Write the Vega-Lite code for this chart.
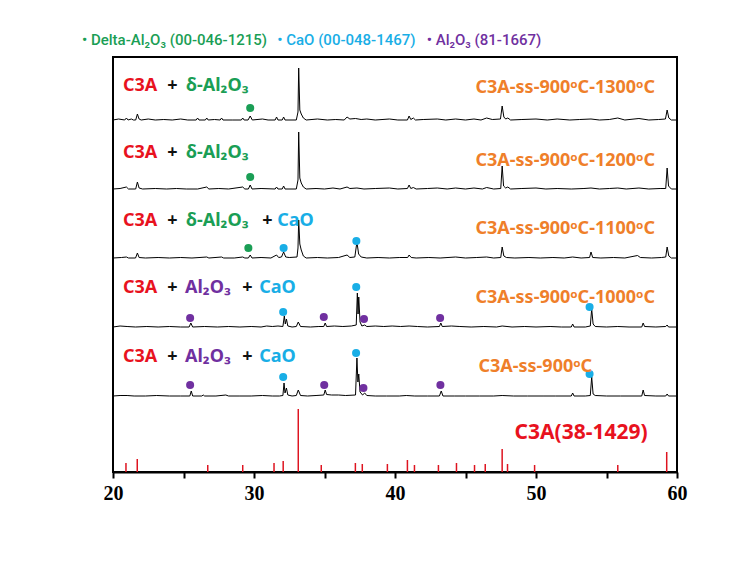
{
"$schema":"https://vega.github.io/schema/vega-lite/v6.json",
"width":564,"height":415,
"autosize":{"type":"none"},
"padding":{"left":113,"top":57,"right":78,"bottom":103},
"background":"white",
"config":{"view":{"stroke":"black","strokeWidth":2}},
"datasets":{
"xrd":[
{"s":"1300","x":20.0,"y":352},{"s":"1300","x":20.4,"y":353},{"s":"1300","x":20.83,"y":352},{"s":"1300","x":20.95,"y":354},{"s":"1300","x":21.07,"y":352},{"s":"1300","x":21.3,"y":353},{"s":"1300","x":21.45,"y":352},{"s":"1300","x":21.61,"y":352},{"s":"1300","x":21.73,"y":358},{"s":"1300","x":21.85,"y":353},{"s":"1300","x":22.0,"y":352},{"s":"1300","x":22.5,"y":353},{"s":"1300","x":23.0,"y":352},{"s":"1300","x":23.6,"y":352.5},{"s":"1300","x":24.2,"y":352},{"s":"1300","x":24.8,"y":353},{"s":"1300","x":25.3,"y":352},{"s":"1300","x":25.9,"y":352},{"s":"1300","x":26.0,"y":354},{"s":"1300","x":26.1,"y":352},{"s":"1300","x":26.55,"y":352},{"s":"1300","x":26.65,"y":354},{"s":"1300","x":26.75,"y":352},{"s":"1300","x":27.2,"y":352.5},{"s":"1300","x":27.6,"y":352},{"s":"1300","x":27.7,"y":354},{"s":"1300","x":27.8,"y":352},{"s":"1300","x":28.5,"y":352},{"s":"1300","x":29.1,"y":352},{"s":"1300","x":29.2,"y":354},{"s":"1300","x":29.3,"y":352},{"s":"1300","x":29.58,"y":352},{"s":"1300","x":29.73,"y":356},{"s":"1300","x":29.88,"y":352},{"s":"1300","x":30.6,"y":353},{"s":"1300","x":31.0,"y":352},{"s":"1300","x":31.5,"y":352},{"s":"1300","x":31.6,"y":355},{"s":"1300","x":31.7,"y":352},{"s":"1300","x":32.0,"y":352},{"s":"1300","x":32.1,"y":355},{"s":"1300","x":32.2,"y":352},{"s":"1300","x":33.0,"y":352},{"s":"1300","x":33.12,"y":360},{"s":"1300","x":33.17,"y":404},{"s":"1300","x":33.25,"y":362},{"s":"1300","x":33.35,"y":358},{"s":"1300","x":33.5,"y":354},{"s":"1300","x":33.7,"y":352},{"s":"1300","x":34.5,"y":353},{"s":"1300","x":35.2,"y":352},{"s":"1300","x":35.8,"y":352.5},{"s":"1300","x":36.4,"y":352},{"s":"1300","x":36.6,"y":355},{"s":"1300","x":36.8,"y":353},{"s":"1300","x":37.2,"y":353.5},{"s":"1300","x":37.6,"y":352.5},{"s":"1300","x":38.0,"y":353},{"s":"1300","x":38.6,"y":352},{"s":"1300","x":39.6,"y":353},{"s":"1300","x":40.2,"y":352},{"s":"1300","x":40.88,"y":352},{"s":"1300","x":41.0,"y":356},{"s":"1300","x":41.12,"y":352.5},{"s":"1300","x":41.3,"y":354},{"s":"1300","x":41.45,"y":352},{"s":"1300","x":42.0,"y":352.5},{"s":"1300","x":43.0,"y":353},{"s":"1300","x":43.6,"y":352},{"s":"1300","x":44.3,"y":353},{"s":"1300","x":45.0,"y":352},{"s":"1300","x":45.6,"y":353},{"s":"1300","x":46.1,"y":352},{"s":"1300","x":46.5,"y":354},{"s":"1300","x":46.9,"y":352.5},{"s":"1300","x":47.48,"y":353},{"s":"1300","x":47.6,"y":366},{"s":"1300","x":47.72,"y":355},{"s":"1300","x":47.85,"y":353},{"s":"1300","x":48.0,"y":354},{"s":"1300","x":48.2,"y":352},{"s":"1300","x":49.0,"y":352.5},{"s":"1300","x":50.0,"y":353},{"s":"1300","x":50.8,"y":352},{"s":"1300","x":51.5,"y":353},{"s":"1300","x":52.4,"y":352},{"s":"1300","x":53.1,"y":352.5},{"s":"1300","x":53.9,"y":353},{"s":"1300","x":54.5,"y":352},{"s":"1300","x":55.2,"y":352.5},{"s":"1300","x":55.8,"y":354},{"s":"1300","x":56.3,"y":352},{"s":"1300","x":57.3,"y":353.5},{"s":"1300","x":58.0,"y":352},{"s":"1300","x":58.7,"y":352.5},{"s":"1300","x":59.18,"y":353},{"s":"1300","x":59.3,"y":362},{"s":"1300","x":59.42,"y":354},{"s":"1300","x":59.6,"y":352},{"s":"1300","x":60.0,"y":352},
{"s":"1200","x":20.0,"y":283},{"s":"1200","x":20.5,"y":283.5},{"s":"1200","x":20.95,"y":285},{"s":"1200","x":21.1,"y":283},{"s":"1200","x":21.61,"y":283},{"s":"1200","x":21.73,"y":290},{"s":"1200","x":21.85,"y":284},{"s":"1200","x":22.1,"y":283},{"s":"1200","x":23.0,"y":283.5},{"s":"1200","x":23.8,"y":283},{"s":"1200","x":24.5,"y":283.5},{"s":"1200","x":25.2,"y":283},{"s":"1200","x":26.0,"y":283},{"s":"1200","x":26.65,"y":285},{"s":"1200","x":26.8,"y":283},{"s":"1200","x":27.5,"y":283.5},{"s":"1200","x":28.2,"y":283},{"s":"1200","x":29.2,"y":285},{"s":"1200","x":29.35,"y":283},{"s":"1200","x":29.6,"y":283},{"s":"1200","x":29.73,"y":287},{"s":"1200","x":29.86,"y":283},{"s":"1200","x":30.5,"y":283.5},{"s":"1200","x":31.5,"y":283},{"s":"1200","x":31.6,"y":285},{"s":"1200","x":31.7,"y":283},{"s":"1200","x":32.0,"y":283},{"s":"1200","x":32.1,"y":286},{"s":"1200","x":32.2,"y":283},{"s":"1200","x":33.0,"y":283},{"s":"1200","x":33.12,"y":292},{"s":"1200","x":33.17,"y":340},{"s":"1200","x":33.25,"y":294},{"s":"1200","x":33.35,"y":289},{"s":"1200","x":33.5,"y":285},{"s":"1200","x":33.7,"y":283},{"s":"1200","x":34.4,"y":283.5},{"s":"1200","x":35.0,"y":283},{"s":"1200","x":35.6,"y":284},{"s":"1200","x":36.1,"y":283},{"s":"1200","x":36.6,"y":285},{"s":"1200","x":36.8,"y":283.5},{"s":"1200","x":37.3,"y":284},{"s":"1200","x":37.8,"y":283},{"s":"1200","x":38.6,"y":283.5},{"s":"1200","x":39.6,"y":284},{"s":"1200","x":40.2,"y":283},{"s":"1200","x":40.88,"y":283.5},{"s":"1200","x":41.0,"y":287},{"s":"1200","x":41.12,"y":283.5},{"s":"1200","x":41.3,"y":284.5},{"s":"1200","x":41.5,"y":283},{"s":"1200","x":42.3,"y":283.5},{"s":"1200","x":43.0,"y":284},{"s":"1200","x":43.7,"y":283},{"s":"1200","x":44.3,"y":284},{"s":"1200","x":45.0,"y":283},{"s":"1200","x":45.6,"y":284},{"s":"1200","x":46.2,"y":283},{"s":"1200","x":46.5,"y":284.5},{"s":"1200","x":47.0,"y":283},{"s":"1200","x":47.5,"y":283.5},{"s":"1200","x":47.6,"y":306},{"s":"1200","x":47.7,"y":286},{"s":"1200","x":47.85,"y":284},{"s":"1200","x":48.0,"y":285},{"s":"1200","x":48.2,"y":283},{"s":"1200","x":49.0,"y":283.5},{"s":"1200","x":50.0,"y":284},{"s":"1200","x":50.7,"y":283},{"s":"1200","x":51.5,"y":283.5},{"s":"1200","x":52.5,"y":283},{"s":"1200","x":53.4,"y":283.5},{"s":"1200","x":53.9,"y":284},{"s":"1200","x":54.5,"y":283},{"s":"1200","x":55.2,"y":283.5},{"s":"1200","x":55.8,"y":284},{"s":"1200","x":56.4,"y":283},{"s":"1200","x":57.3,"y":284},{"s":"1200","x":58.0,"y":283},{"s":"1200","x":58.8,"y":283.5},{"s":"1200","x":59.2,"y":283.5},{"s":"1200","x":59.3,"y":304},{"s":"1200","x":59.4,"y":286},{"s":"1200","x":59.6,"y":283},{"s":"1200","x":60.0,"y":283},
{"s":"1100","x":20.0,"y":214},{"s":"1100","x":20.6,"y":214.5},{"s":"1100","x":20.95,"y":215},{"s":"1100","x":21.1,"y":214},{"s":"1100","x":21.6,"y":214},{"s":"1100","x":21.73,"y":219},{"s":"1100","x":21.85,"y":214.5},{"s":"1100","x":22.3,"y":214},{"s":"1100","x":23.2,"y":214.5},{"s":"1100","x":24.0,"y":214},{"s":"1100","x":24.8,"y":214.5},{"s":"1100","x":25.6,"y":214},{"s":"1100","x":26.65,"y":215},{"s":"1100","x":26.8,"y":214},{"s":"1100","x":27.7,"y":215},{"s":"1100","x":27.85,"y":214},{"s":"1100","x":28.6,"y":214},{"s":"1100","x":29.2,"y":215},{"s":"1100","x":29.35,"y":214},{"s":"1100","x":29.6,"y":214},{"s":"1100","x":29.73,"y":217},{"s":"1100","x":29.86,"y":214},{"s":"1100","x":30.5,"y":214.5},{"s":"1100","x":31.2,"y":214},{"s":"1100","x":31.6,"y":217},{"s":"1100","x":31.75,"y":214.5},{"s":"1100","x":31.95,"y":215},{"s":"1100","x":32.1,"y":220},{"s":"1100","x":32.25,"y":215},{"s":"1100","x":32.5,"y":214.5},{"s":"1100","x":33.05,"y":215},{"s":"1100","x":33.12,"y":224},{"s":"1100","x":33.17,"y":252},{"s":"1100","x":33.25,"y":228},{"s":"1100","x":33.35,"y":222},{"s":"1100","x":33.5,"y":216},{"s":"1100","x":33.7,"y":214},{"s":"1100","x":34.5,"y":214.5},{"s":"1100","x":35.2,"y":214},{"s":"1100","x":36.0,"y":214.5},{"s":"1100","x":36.6,"y":217},{"s":"1100","x":36.8,"y":214.5},{"s":"1100","x":37.15,"y":215},{"s":"1100","x":37.3,"y":230},{"s":"1100","x":37.42,"y":218},{"s":"1100","x":37.6,"y":215},{"s":"1100","x":38.0,"y":214},{"s":"1100","x":38.8,"y":214.5},{"s":"1100","x":39.6,"y":214},{"s":"1100","x":40.3,"y":214.5},{"s":"1100","x":40.9,"y":214.5},{"s":"1100","x":41.0,"y":217},{"s":"1100","x":41.15,"y":214.5},{"s":"1100","x":41.5,"y":214},{"s":"1100","x":42.4,"y":214.5},{"s":"1100","x":43.2,"y":214},{"s":"1100","x":44.3,"y":215},{"s":"1100","x":45.0,"y":214},{"s":"1100","x":45.8,"y":214.5},{"s":"1100","x":46.5,"y":215},{"s":"1100","x":47.0,"y":214},{"s":"1100","x":47.5,"y":214.5},{"s":"1100","x":47.6,"y":225},{"s":"1100","x":47.72,"y":216},{"s":"1100","x":47.9,"y":214.5},{"s":"1100","x":48.5,"y":214},{"s":"1100","x":49.5,"y":214.5},{"s":"1100","x":50.3,"y":214},{"s":"1100","x":51.2,"y":214.5},{"s":"1100","x":52.0,"y":214},{"s":"1100","x":52.6,"y":215},{"s":"1100","x":53.2,"y":214},{"s":"1100","x":53.8,"y":214.5},{"s":"1100","x":53.9,"y":220},{"s":"1100","x":54.02,"y":214.5},{"s":"1100","x":54.6,"y":214},{"s":"1100","x":55.5,"y":214.5},{"s":"1100","x":56.3,"y":214},{"s":"1100","x":57.2,"y":216.5},{"s":"1100","x":57.4,"y":214.5},{"s":"1100","x":58.2,"y":214},{"s":"1100","x":58.9,"y":214.5},{"s":"1100","x":59.2,"y":215},{"s":"1100","x":59.3,"y":225},{"s":"1100","x":59.42,"y":216},{"s":"1100","x":59.6,"y":214},{"s":"1100","x":60.0,"y":214},
{"s":"1000","x":20.0,"y":145},{"s":"1000","x":20.5,"y":146},{"s":"1000","x":21.0,"y":145.5},{"s":"1000","x":21.6,"y":145},{"s":"1000","x":22.4,"y":145.5},{"s":"1000","x":23.2,"y":145},{"s":"1000","x":24.0,"y":145.5},{"s":"1000","x":24.8,"y":145},{"s":"1000","x":25.4,"y":145},{"s":"1000","x":25.52,"y":149},{"s":"1000","x":25.65,"y":145},{"s":"1000","x":26.5,"y":145.5},{"s":"1000","x":27.4,"y":145},{"s":"1000","x":28.2,"y":145.5},{"s":"1000","x":29.0,"y":145},{"s":"1000","x":29.8,"y":145.5},{"s":"1000","x":30.5,"y":145},{"s":"1000","x":30.9,"y":146},{"s":"1000","x":31.3,"y":145.5},{"s":"1000","x":31.7,"y":146},{"s":"1000","x":32.05,"y":145.5},{"s":"1000","x":32.15,"y":156},{"s":"1000","x":32.22,"y":148},{"s":"1000","x":32.3,"y":153},{"s":"1000","x":32.4,"y":146},{"s":"1000","x":32.7,"y":145},{"s":"1000","x":33.0,"y":145.5},{"s":"1000","x":33.14,"y":150},{"s":"1000","x":33.3,"y":145.5},{"s":"1000","x":34.0,"y":145},{"s":"1000","x":34.6,"y":145.5},{"s":"1000","x":34.95,"y":145.5},{"s":"1000","x":35.05,"y":149},{"s":"1000","x":35.15,"y":145.5},{"s":"1000","x":35.7,"y":146},{"s":"1000","x":36.3,"y":145.5},{"s":"1000","x":36.9,"y":146},{"s":"1000","x":37.25,"y":147},{"s":"1000","x":37.33,"y":179},{"s":"1000","x":37.38,"y":158},{"s":"1000","x":37.43,"y":175},{"s":"1000","x":37.52,"y":150},{"s":"1000","x":37.65,"y":146},{"s":"1000","x":37.85,"y":147},{"s":"1000","x":38.0,"y":145.5},{"s":"1000","x":38.6,"y":146},{"s":"1000","x":39.2,"y":145.5},{"s":"1000","x":39.8,"y":146},{"s":"1000","x":40.4,"y":145.5},{"s":"1000","x":41.0,"y":146},{"s":"1000","x":41.6,"y":145.5},{"s":"1000","x":42.3,"y":145},{"s":"1000","x":43.15,"y":145.5},{"s":"1000","x":43.25,"y":149},{"s":"1000","x":43.35,"y":145.5},{"s":"1000","x":44.0,"y":146},{"s":"1000","x":44.6,"y":145.5},{"s":"1000","x":45.4,"y":145},{"s":"1000","x":46.3,"y":145.5},{"s":"1000","x":47.2,"y":145},{"s":"1000","x":47.6,"y":146},{"s":"1000","x":48.3,"y":145},{"s":"1000","x":49.2,"y":145.5},{"s":"1000","x":50.0,"y":145},{"s":"1000","x":51.0,"y":145.5},{"s":"1000","x":51.8,"y":145},{"s":"1000","x":52.5,"y":145},{"s":"1000","x":52.6,"y":148},{"s":"1000","x":52.7,"y":145},{"s":"1000","x":53.5,"y":145},{"s":"1000","x":53.85,"y":146},{"s":"1000","x":53.95,"y":163},{"s":"1000","x":54.05,"y":148},{"s":"1000","x":54.2,"y":145.5},{"s":"1000","x":55.0,"y":145},{"s":"1000","x":55.8,"y":145.5},{"s":"1000","x":56.6,"y":145},{"s":"1000","x":57.5,"y":145},{"s":"1000","x":57.6,"y":149},{"s":"1000","x":57.7,"y":145.5},{"s":"1000","x":58.5,"y":145},{"s":"1000","x":59.2,"y":145.5},{"s":"1000","x":59.3,"y":147},{"s":"1000","x":59.4,"y":145},{"s":"1000","x":60.0,"y":145},
{"s":"900","x":20.0,"y":76},{"s":"900","x":20.5,"y":76.5},{"s":"900","x":21.0,"y":76.5},{"s":"900","x":21.5,"y":76},{"s":"900","x":22.3,"y":76},{"s":"900","x":23.1,"y":76.5},{"s":"900","x":24.0,"y":76},{"s":"900","x":24.8,"y":76},{"s":"900","x":25.45,"y":76},{"s":"900","x":25.55,"y":81},{"s":"900","x":25.65,"y":76},{"s":"900","x":26.3,"y":76},{"s":"900","x":26.4,"y":77},{"s":"900","x":26.5,"y":76},{"s":"900","x":27.3,"y":76},{"s":"900","x":28.0,"y":77},{"s":"900","x":28.2,"y":76},{"s":"900","x":29.0,"y":76},{"s":"900","x":29.8,"y":76},{"s":"900","x":30.6,"y":76.5},{"s":"900","x":31.3,"y":76},{"s":"900","x":31.8,"y":76},{"s":"900","x":32.05,"y":76.5},{"s":"900","x":32.13,"y":89},{"s":"900","x":32.2,"y":79},{"s":"900","x":32.3,"y":84},{"s":"900","x":32.4,"y":77},{"s":"900","x":32.7,"y":76},{"s":"900","x":33.0,"y":76.5},{"s":"900","x":33.14,"y":82},{"s":"900","x":33.3,"y":76.5},{"s":"900","x":33.8,"y":76},{"s":"900","x":34.4,"y":76.5},{"s":"900","x":34.95,"y":77},{"s":"900","x":35.05,"y":82},{"s":"900","x":35.15,"y":77.5},{"s":"900","x":35.5,"y":77},{"s":"900","x":36.0,"y":77},{"s":"900","x":36.5,"y":76.5},{"s":"900","x":37.2,"y":77},{"s":"900","x":37.3,"y":114},{"s":"900","x":37.37,"y":90},{"s":"900","x":37.43,"y":98},{"s":"900","x":37.52,"y":80},{"s":"900","x":37.7,"y":77},{"s":"900","x":37.85,"y":79},{"s":"900","x":38.0,"y":76.5},{"s":"900","x":38.6,"y":76},{"s":"900","x":39.4,"y":76},{"s":"900","x":40.3,"y":76},{"s":"900","x":40.8,"y":76.5},{"s":"900","x":41.4,"y":76},{"s":"900","x":42.3,"y":76},{"s":"900","x":43.15,"y":76},{"s":"900","x":43.28,"y":81},{"s":"900","x":43.4,"y":76},{"s":"900","x":44.2,"y":76},{"s":"900","x":45.0,"y":76},{"s":"900","x":46.0,"y":76},{"s":"900","x":47.0,"y":76},{"s":"900","x":47.6,"y":76.5},{"s":"900","x":48.4,"y":76},{"s":"900","x":49.4,"y":76},{"s":"900","x":50.5,"y":76},{"s":"900","x":51.4,"y":76},{"s":"900","x":52.5,"y":76},{"s":"900","x":52.6,"y":79},{"s":"900","x":52.7,"y":76},{"s":"900","x":53.5,"y":76},{"s":"900","x":53.85,"y":76.5},{"s":"900","x":53.95,"y":95},{"s":"900","x":54.05,"y":78},{"s":"900","x":54.2,"y":76.5},{"s":"900","x":55.0,"y":76},{"s":"900","x":56.0,"y":76},{"s":"900","x":57.5,"y":76},{"s":"900","x":57.6,"y":82},{"s":"900","x":57.7,"y":76.5},{"s":"900","x":58.5,"y":76},{"s":"900","x":59.2,"y":76},{"s":"900","x":59.3,"y":78},{"s":"900","x":59.4,"y":76},{"s":"900","x":60.0,"y":76}
],
"ref":[
{"x":20.92,"h":9},{"x":21.72,"h":13},{"x":26.72,"h":7},{"x":29.2,"h":7},{"x":31.42,"h":9},{"x":32.07,"h":11},{"x":33.14,"h":63},{"x":34.77,"h":7},{"x":37.19,"h":9},{"x":37.68,"h":8},{"x":39.46,"h":8},{"x":40.88,"h":12},{"x":41.38,"h":7},{"x":43.08,"h":7},{"x":44.36,"h":9},{"x":45.64,"h":7},{"x":46.4,"h":8},{"x":47.6,"h":23},{"x":47.98,"h":8},{"x":49.9,"h":7},{"x":55.8,"h":7},{"x":59.27,"h":20}
],
"dots":[
{"k":"delta","x":29.73,"y":364},{"k":"delta","x":29.73,"y":295},{"k":"delta","x":29.6,"y":224},{"k":"CaO","x":32.1,"y":224},{"k":"CaO","x":37.26,"y":231},
{"k":"Al2O3","x":25.47,"y":154},{"k":"CaO","x":32.07,"y":160},{"k":"Al2O3","x":34.95,"y":155},{"k":"CaO","x":37.25,"y":185},{"k":"Al2O3","x":37.8,"y":153},{"k":"Al2O3","x":43.2,"y":154},{"k":"CaO","x":53.8,"y":165},
{"k":"Al2O3","x":25.47,"y":87},{"k":"CaO","x":32.07,"y":95},{"k":"Al2O3","x":34.98,"y":87},{"k":"CaO","x":37.24,"y":119},{"k":"Al2O3","x":37.76,"y":84},{"k":"Al2O3","x":43.22,"y":87},{"k":"CaO","x":53.8,"y":98}
],
"phaseText":[
{"k":"C3A","t":"C3A","x":20.71,"y":386},{"k":"plus","t":"+","x":23.84,"y":386},{"k":"delta","t":"δ-Al₂O₃","x":25.18,"y":386},
{"k":"C3A","t":"C3A","x":20.71,"y":319},{"k":"plus","t":"+","x":23.84,"y":319},{"k":"delta","t":"δ-Al₂O₃","x":25.18,"y":319},
{"k":"C3A","t":"C3A","x":20.71,"y":251},{"k":"plus","t":"+","x":23.84,"y":251},{"k":"delta","t":"δ-Al₂O₃","x":25.18,"y":251},{"k":"plus","t":"+","x":30.58,"y":251},{"k":"CaO","t":"CaO","x":31.65,"y":251},
{"k":"C3A","t":"C3A","x":20.71,"y":184},{"k":"plus","t":"+","x":23.84,"y":184},{"k":"Al2O3","t":"Al₂O₃","x":25.11,"y":184},{"k":"plus","t":"+","x":29.16,"y":184},{"k":"CaO","t":"CaO","x":30.37,"y":184},
{"k":"C3A","t":"C3A","x":20.71,"y":115},{"k":"plus","t":"+","x":23.84,"y":115},{"k":"Al2O3","t":"Al₂O₃","x":25.11,"y":115},{"k":"plus","t":"+","x":29.16,"y":115},{"k":"CaO","t":"CaO","x":30.37,"y":115}
],
"sampleText":[
{"k":"sample","t":"C3A-ss-900ᵒC-1300ᵒC","x":45.71,"y":384},
{"k":"sample","t":"C3A-ss-900ᵒC-1200ᵒC","x":45.71,"y":311},
{"k":"sample","t":"C3A-ss-900ᵒC-1100ᵒC","x":45.71,"y":243},
{"k":"sample","t":"C3A-ss-900ᵒC-1000ᵒC","x":45.71,"y":174},
{"k":"sample","t":"C3A-ss-900ᵒC","x":45.92,"y":105}
],
"legendText":[
{"k":"delta","t":"• Delta-Al₂O₃ (00-046-1215)","x":17.8,"y":432},
{"k":"CaO","t":"• CaO (00-048-1467)","x":31.65,"y":432},
{"k":"Al2O3","t":"• Al₂O₃ (81-1667)","x":42.25,"y":432}
],
"refText":[
{"k":"C3A","t":"C3A(38-1429)","x":48.48,"y":39}
]
},
"layer":[
{"data":{"name":"xrd"},"mark":{"type":"line","color":"black","strokeWidth":1},
 "encoding":{
  "x":{"field":"x","type":"quantitative","scale":{"domain":[20,60],"nice":false,"zero":false},
   "axis":{"values":[20,25,30,35,40,45,50,55,60],"labelExpr":"datum.value % 10 === 0 ? datum.label : ''","title":null,"grid":false,"domainColor":"black","domainWidth":2,"tickColor":"black","tickWidth":2,"tickSize":6,"labelFont":"Liberation Serif","labelFontWeight":"bold","labelFontSize":20,"labelColor":"black","labelPadding":5,"labelFlush":false}},
  "y":{"field":"y","type":"quantitative","scale":{"domain":[0,415],"nice":false,"zero":false},"axis":null},
  "detail":{"field":"s","type":"nominal"}}},
{"data":{"name":"ref"},"mark":{"type":"rule","color":"#de1420","strokeWidth":1.5},
 "encoding":{"x":{"field":"x","type":"quantitative"},"y":{"field":"h","type":"quantitative"},"y2":{"datum":0}}},
{"data":{"name":"dots"},"mark":{"type":"point","filled":true,"size":65,"opacity":1},
 "encoding":{"x":{"field":"x","type":"quantitative"},"y":{"field":"y","type":"quantitative"},
  "color":{"field":"k","type":"nominal","legend":null,"scale":{"domain":["delta","CaO","Al2O3","C3A","plus","sample"],"range":["#1a9e55","#19aee6","#7030a0","#e8121e","#111111","#ef7f2a"]}}}},
{"data":{"name":"phaseText"},"mark":{"type":"text","align":"left","baseline":"middle","font":"Noto Sans","fontWeight":"bold","fontSize":18},
 "encoding":{"x":{"field":"x","type":"quantitative"},"y":{"field":"y","type":"quantitative"},"text":{"field":"t","type":"nominal"},"color":{"field":"k","type":"nominal","legend":null}}},
{"data":{"name":"sampleText"},"mark":{"type":"text","align":"left","baseline":"middle","font":"Noto Sans","fontWeight":"bold","fontSize":18},
 "encoding":{"x":{"field":"x","type":"quantitative"},"y":{"field":"y","type":"quantitative"},"text":{"field":"t","type":"nominal"},"color":{"field":"k","type":"nominal","legend":null}}},
{"data":{"name":"legendText"},"mark":{"type":"text","align":"left","baseline":"middle","font":"Roboto","fontWeight":500,"fontSize":15},
 "encoding":{"x":{"field":"x","type":"quantitative"},"y":{"field":"y","type":"quantitative"},"text":{"field":"t","type":"nominal"},"color":{"field":"k","type":"nominal","legend":null}}},
{"data":{"name":"refText"},"mark":{"type":"text","align":"left","baseline":"middle","font":"Noto Sans","fontWeight":"bold","fontSize":21},
 "encoding":{"x":{"field":"x","type":"quantitative"},"y":{"field":"y","type":"quantitative"},"text":{"field":"t","type":"nominal"},"color":{"field":"k","type":"nominal","legend":null}}}
]
}
